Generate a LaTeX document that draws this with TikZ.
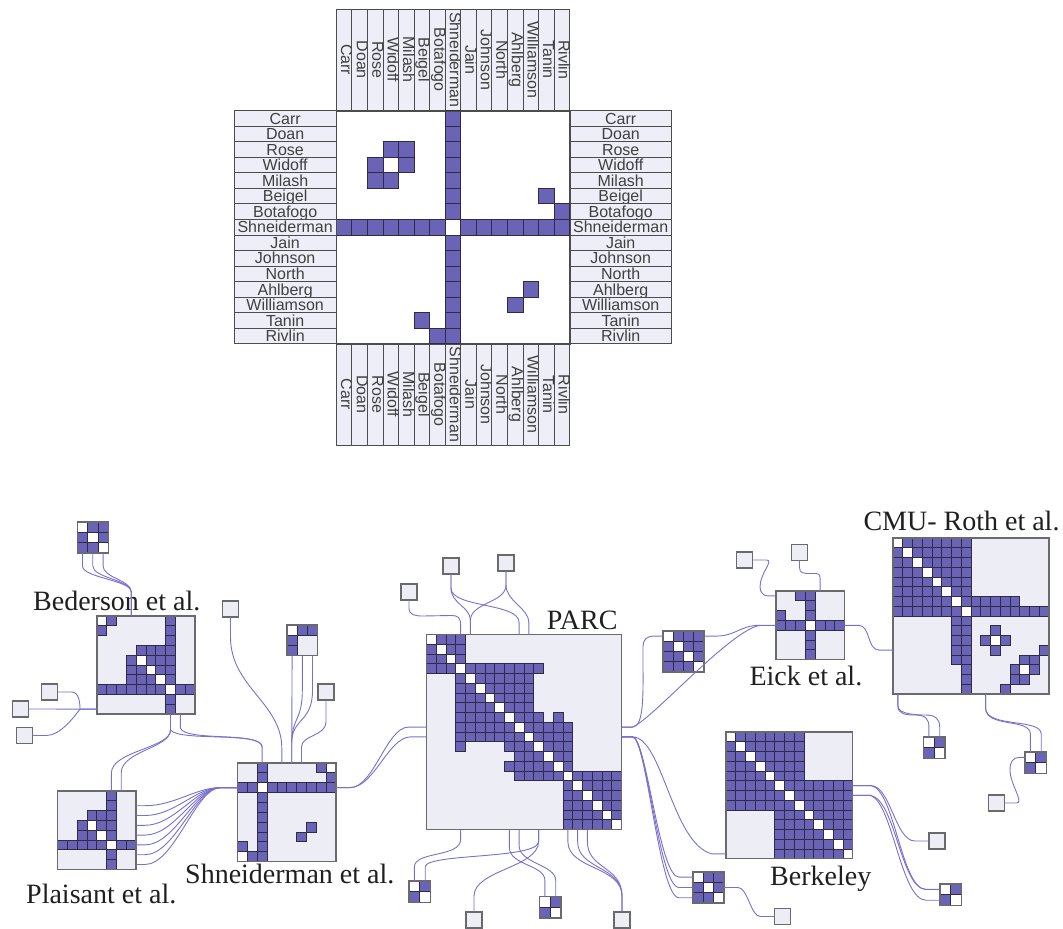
\documentclass[tikz,border=0pt]{standalone}
\usepackage{fontspec}
\usepackage{graphicx}
\setmainfont{Liberation Serif}
\newfontfamily\lsans{Liberation Sans}
\usetikzlibrary{calc}
\definecolor{pur}{RGB}{106,99,182}
\definecolor{celld}{RGB}{45,43,70}
\definecolor{bgl}{RGB}{237,237,246}
\definecolor{mout}{RGB}{105,105,110}
\definecolor{edgec}{RGB}{120,112,205}
\definecolor{lab}{RGB}{238,238,248}
\tikzset{
 cellf/.style={fill=pur,draw=celld,line width=0.8pt},
 cellw/.style={fill=white,draw=celld,line width=0.8pt},
 mframe/.style={draw=mout,line width=1.4pt,inner sep=0pt,outer sep=0pt,anchor=north west},
 single/.style={draw=mout,fill=bgl,line width=1.3pt,inner sep=0pt,outer sep=0pt,minimum size=16pt,anchor=north west},
 edge/.style={draw=edgec,line width=0.9pt},
 glab/.style={font=\fontsize{28}{30}\selectfont,text=black!88,inner sep=0pt,anchor=base west},
 tlab/.style={draw=black!70,fill=lab,line width=0.8pt},
 ttext/.style={font={\lsans\fontsize{16}{18}\selectfont},text=black!75,inner sep=0pt,text height=13pt,text depth=1.5pt,anchor=center},
 vtext/.style={font={\lsans\fontsize{16}{18}\selectfont},text=black!75,inner sep=0pt,anchor=center},
}
\newcommand\vlab[1]{\rotatebox{-90}{\vphantom{Ag}#1}}
\newcommand\mstart[4]{\def\mox{#1}\def\moy{#2}\def\mcs{#3}\fill[bgl] (#1,#2) rectangle ++({#4*#3},{#4*#3});}
\newcommand\mend[2]{\node[mframe,minimum size={#2*\mcs*1pt}] (#1) at (\mox,\moy) {};}
\newcommand\blk[4]{\foreach \rr in {#1,...,#2}{\foreach \cc in {#3,...,#4}{\filldraw[cellf] ({\mox+\cc*\mcs},{\moy+\rr*\mcs}) rectangle ++(\mcs,\mcs);}}}
\newcommand\sblk[4]{\blk{#1}{#2}{#3}{#4}\blk{#3}{#4}{#1}{#2}}
\newcommand\sym[1]{\foreach \rr/\cc in {#1}{\filldraw[cellf] ({\mox+\cc*\mcs},{\moy+\rr*\mcs}) rectangle ++(\mcs,\mcs); \filldraw[cellf] ({\mox+\rr*\mcs},{\moy+\cc*\mcs}) rectangle ++(\mcs,\mcs);}}
\newcommand\wc[1]{\foreach \rr/\cc in {#1}{\filldraw[cellw] ({\mox+\cc*\mcs},{\moy+\rr*\mcs}) rectangle ++(\mcs,\mcs);}}
\newcommand\diag[2]{\foreach \rr in {#1,...,#2}{\filldraw[cellw] ({\mox+\rr*\mcs},{\moy+\rr*\mcs}) rectangle ++(\mcs,\mcs);}}
\begin{document}
\begin{tikzpicture}[x=1pt,y=-1pt]
\useasboundingbox (0,0) rectangle (1063,929);
% ---------------- top matrix ----------------
\fill[white] (336.3,110.5) rectangle ++(233.25,233.25);
\foreach \n [count=\i from 0] in {Carr,Doan,Rose,Widoff,Milash,Beigel,Botafogo,Shneiderman,Jain,Johnson,North,Ahlberg,Williamson,Tanin,Rivlin}{
  \pgfmathsetmacro\ya{110.5+\i*15.55}
  \pgfmathsetmacro\yb{110.5+(\i+1)*15.55}
  \pgfmathsetmacro\ym{110.5+(\i+0.5)*15.55}
  \pgfmathsetmacro\xa{336.3+\i*15.55}
  \pgfmathsetmacro\xb{336.3+(\i+1)*15.55}
  \pgfmathsetmacro\xm{336.3+(\i+0.5)*15.55+1}
  \draw[tlab] (234,\ya) rectangle (336.3,\yb);
  \node[ttext] (tw\i) at (285.15,\ym) {\n};
  \draw[tlab] (569.55,\ya) rectangle (671.8,\yb);
  \node[ttext] (te\i) at (620.7,\ym) {\n};
  \draw[tlab] (\xa,9) rectangle (\xb,110.5);
  \node[vtext] (tn\i) at (\xm,59.75) {\vlab{\n}};
  \draw[tlab] (\xa,343.75) rectangle (\xb,445.3);
  \node[vtext] (tb\i) at (\xm,394.5) {\vlab{\n}};
}
\def\mox{336.3}\def\moy{110.5}\def\mcs{15.55}
\sblk{7}{7}{0}{6}\sblk{7}{7}{8}{14}
\sym{2/3,2/4,3/4,5/13,6/14,11/12}
\wc{7/7}
\node[draw=black!70,line width=0.8pt,inner sep=0pt,minimum size=233.25pt,anchor=north west] (tgrid) at (336.3,110.5) {};
% ---------------- bottom matrices ----------------
\mstart{77.3}{522}{10.3}{3}\blk{0}{2}{0}{2}\diag{0}{2}\mend{b3a}{3}
\mstart{97}{616}{9.8}{10}
\sym{0/1,0/7,1/7,2/7,3/4,3/5,3/6,3/7,4/5,4/6,4/7,5/6,5/7,6/7,7/8,7/9}
\wc{0/0,4/4,5/5,6/6,7/7}\mend{bed}{10}
\mstart{57.5}{791}{9.8}{8}
\sym{0/5,1/5,2/3,2/4,2/5,3/4,3/5,4/5,5/6,5/7}
\wc{3/3,4/4,5/5}\mend{pla}{8}
\mstart{237.5}{763}{9.85}{10}
\sblk{2}{2}{0}{1}\sblk{2}{2}{3}{9}
\sym{0/8,1/9,6/7}
\wc{2/2,0/9,9/0}\mend{shn}{10}
\mstart{287}{625}{10.2}{3}\sym{0/1,0/2}\wc{0/0}\mend{b3b}{3}
\mstart{426.5}{634.5}{9.75}{20}
\blk{0}{3}{0}{3}
\sblk{3}{3}{4}{11}
\blk{4}{10}{4}{10}
\sblk{8}{8}{8}{11}
\blk{9}{14}{9}{14}
\sym{8/13}
\blk{14}{19}{14}{19}
\diag{0}{19}\mend{parc}{20}
\mstart{663}{631}{10.2}{4}\blk{0}{3}{0}{3}\diag{0}{3}\mend{mfour}{4}
\mstart{776}{591}{9.8}{7}
\sblk{3}{3}{0}{2}\sblk{3}{3}{4}{6}\sym{0/2}\wc{3/3}\mend{eick}{7}
\mstart{893}{538}{9.75}{16}
\blk{0}{7}{0}{7}
\sblk{6}{6}{8}{12}
\sblk{7}{7}{8}{15}
\sym{9/10,10/11,11/15,12/13,12/14,13/14}
\diag{0}{7}\wc{10/10,13/13}\mend{cmu}{16}
\mstart{726}{732}{9.75}{13}
\blk{0}{7}{0}{7}\blk{5}{12}{5}{12}\diag{0}{12}\mend{berk}{13}
\mstart{693}{872}{10.3}{3}\blk{0}{2}{0}{2}\diag{0}{2}\mend{mthree}{3}
\mstart{409}{881}{10.8}{2}\sym{0/1}\diag{0}{1}\mend{pL}{2}
\mstart{539.5}{896.5}{10.8}{2}\sym{0/1}\diag{0}{1}\mend{pR}{2}
\mstart{923.5}{737}{10.8}{2}\sym{0/1}\diag{0}{1}\mend{cL}{2}
\mstart{1025}{752}{10.8}{2}\sym{0/1}\diag{0}{1}\mend{cR}{2}
\mstart{940}{884}{10.8}{2}\sym{0/1}\diag{0}{1}\mend{bR}{2}
% single nodes
\node[single] (u1) at (41.5,684) {};
\node[single] (u2) at (12.5,701) {};
\node[single] (u3) at (16.3,727.5) {};
\node[single] (u4) at (222.5,601) {};
\node[single] (u5) at (318,684) {};
\node[single] (u6) at (401,584) {};
\node[single] (u7) at (443,558) {};
\node[single] (u8) at (498,555) {};
\node[single] (u9) at (466,912) {};
\node[single] (u10) at (614,912) {};
\node[single] (u11) at (736.5,552) {};
\node[single] (u12) at (791.5,544.5) {};
\node[single] (u13) at (988.5,795) {};
\node[single] (u14) at (929,833) {};
\node[single] (u15) at (774.5,908.5) {};
% labels
\node[glab] (tBed) at (33,610) {Bederson et al.};
\node[glab] (tPla) at (26,903) {Plaisant et al.};
\node[glab] (tShn) at (185,883) {Shneiderman et al.};
\node[glab] (tParc) at (546.7,629.3) {PARC};
\node[glab] (tEick) at (749.3,685) {Eick et al.};
\node[glab] (tCmu) at (863.3,530) {CMU- Roth et al.};
\node[glab] (tBerk) at (770,885) {Berkeley};
% ---------------- edges ----------------
\foreach \k in {0,1,2}{
 \draw[edge] ($(b3a.south west)+({(\k+.5)*10.3},0)$) -- ++(0,13) .. controls +(0,12) and +(0,-12) .. ($(bed.north west)+(34.3,-24)$) -- ($(bed.north west)+(34.3,0)$);}
\draw[edge] (u1.east) -- ++(14,0) .. controls +(7,0) and +(0,-8) .. ($(bed.north west)+(-17,93.1)$) -- ($(bed.north west)+(0,93.1)$);
\draw[edge] (u2.east) -- ($(bed.north west)+(0,93.1)$);
\draw[edge] (u3.east) -- ++(14,0) .. controls +(14,0) and +(-6,8) .. ($(bed.north west)+(-17,93.1)$);
\draw[edge] ($(bed.south west)+(73.5,0)$) -- ++(0,16) .. controls +(0,18) and +(0,-22) .. ($(pla.north west)+(53.9,-18)$) -- ($(pla.north west)+(53.9,0)$);
\draw[edge] ($(bed.south west)+(73.5,0)$) -- ++(0,16) .. controls +(0,18) and +(0,-22) .. ($(pla.north west)+(63.7,-18)$) -- ($(pla.north west)+(63.7,0)$);
\draw[edge] ($(bed.south west)+(83.3,0)$) -- ++(0,14) .. controls +(5,14) and +(0,-16) .. ($(shn.north west)+(24.6,-16)$) -- ($(shn.north west)+(24.6,0)$);
\draw[edge] ($(bed.south west)+(73.5,0)$) -- ++(0,16) .. controls +(10,12) and +(0,-16) .. ($(shn.north west)+(24.6,-16)$);
\foreach \k in {1,...,7}{
 \draw[edge] ($(pla.north east)+(0,{(\k+.5)*9.8})$) -- ++(9,0) .. controls +(30,0) and +(-25,0) .. ($(shn.north west)+(-17,24.6)$) -- ($(shn.north west)+(0,24.6)$);}
\draw[edge] (u4.south) -- ++(0,20) .. controls +(0,50) and +(0,-45) .. ($(shn.north west)+(44.3,-15)$) -- ($(shn.north west)+(44.3,0)$);
\draw[edge] ($(b3b.south west)+(5.1,0)$) -- ($(shn.north west)+(54.2,0)$);
\draw[edge] ($(b3b.south west)+(15.3,0)$) -- ++(0,35) .. controls +(0,30) and +(0,-25) .. ($(shn.north west)+(54.2,-20)$) -- ($(shn.north west)+(54.2,0)$);
\draw[edge] ($(b3b.south west)+(25.5,0)$) -- ++(0,35) .. controls +(0,32) and +(0,-25) .. ($(shn.north west)+(54.2,-20)$);
\draw[edge] (u5.south) -- ++(0,22) .. controls +(0,14) and +(0,-12) .. ($(shn.north west)+(64,-16)$) -- ($(shn.north west)+(64,0)$);
\draw[edge] ($(shn.north east)+(0,24.6)$) -- ++(14,0) .. controls +(24,0) and +(-22,0) .. ($(parc.north west)+(-18,92.6)$) -- ($(parc.north west)+(0,92.6)$);
\draw[edge] ($(shn.north east)+(0,24.6)$) -- ++(14,0) .. controls +(24,0) and +(-22,0) .. ($(parc.north west)+(-16,102.4)$) -- ($(parc.north west)+(0,102.4)$);
\draw[edge] (u6.south) -- ++(0,8) .. controls +(0,7) and +(-8,0) .. ($(u6.south)+(14,16)$) -- ($(parc.north west)+(24,-19)$) .. controls +(8,0) and +(0,-8) .. ($(parc.north west)+(34.1,-9)$) -- ($(parc.north west)+(34.1,0)$);
\draw[edge] (u7.south) -- ++(0,14) .. controls +(0,16) and +(0,-14) .. ($(parc.north west)+(43.9,-14)$) -- ($(parc.north west)+(43.9,0)$);
\draw[edge] (u7.south) -- ++(0,14) .. controls +(0,20) and +(0,-20) .. ($(parc.north west)+(92.6,-12)$) -- ($(parc.north west)+(92.6,0)$);
\draw[edge] (u8.south) -- ++(0,14) .. controls +(0,18) and +(0,-18) .. ($(parc.north west)+(43.9,-14)$);
\draw[edge] (u8.south) -- ++(0,14) .. controls +(0,16) and +(0,-14) .. ($(parc.north west)+(102.4,-12)$) -- ($(parc.north west)+(102.4,0)$);
\draw[edge] ($(parc.north east)+(0,92.6)$) -- ++(11,0) .. controls +(12,0) and +(0,30) .. ($(mfour.north west)+(-20,30)$) -- ($(mfour.north west)+(-20,15)$) .. controls +(0,-6) and +(-6,0) .. ($(mfour.north west)+(-10,5.1)$) -- ($(mfour.north west)+(0,5.1)$);
\draw[edge] ($(parc.north east)+(0,92.6)$) -- ++(11,0) .. controls +(20,-8) and +(-30,5) .. ($(eick.north west)+(-16,34.3)$) -- ($(eick.north west)+(0,34.3)$);
\draw[edge] ($(mfour.north east)+(0,5.1)$) -- ++(12,0) .. controls +(20,0) and +(-20,0) .. ($(eick.north west)+(-16,34.3)$);
\draw[edge] (u11.east) -- ++(14,0) .. controls +(8,0) and +(0,-14) .. ($(eick.north west)+(-16,-4)$) .. controls +(0,6) and +(-4,0) .. ($(eick.north west)+(-8,4.9)$) -- ($(eick.north west)+(0,4.9)$);
\draw[edge] (u12.south) -- ++(0,7) .. controls +(0,6) and +(-8,0) .. ($(u12.south)+(12,13)$) .. controls +(8,0) and +(0,-8) .. ($(eick.north west)+(44.1,-10)$) -- ($(eick.north west)+(44.1,0)$);
\draw[edge] ($(eick.north east)+(0,34.3)$) -- ++(14,0) .. controls +(12,0) and +(-12,0) .. ($(cmu.north west)+(-14,112.1)$) -- ($(cmu.north west)+(0,112.1)$);
\draw[edge] ($(parc.north east)+(0,102.4)$) -- ++(11,0) .. controls +(30,0) and +(-40,-10) .. ($(berk.north west)+(-14,121.9)$) -- ($(berk.north west)+(0,121.9)$);
\foreach \k in {0,1,2}{
 \draw[edge] ($(parc.north east)+(0,102.4)$) -- ++(11,0) .. controls +(14,0) and +(-20,0) .. ($(mthree.north west)+(-14,{(\k+.5)*10.3})$) -- ($(mthree.north west)+(0,{(\k+.5)*10.3})$);}
\foreach \k in {14,15,16}{
 \draw[edge] ($(parc.south west)+({(\k+.5)*9.75},0)$) -- ++(0,12) .. controls +(0,28) and +(0,-30) .. ($(u10.north)+(0,-16)$) -- (u10.north);}
\draw[edge] ($(parc.south west)+(34.1,0)$) -- ++(0,10) .. controls +(0,18) and +(0,-16) .. ($(pL.north west)+(5.4,-14)$) -- ($(pL.north west)+(5.4,0)$);
\draw[edge] ($(parc.south west)+(112.1,0)$) -- ++(0,12) .. controls +(0,18) and +(0,-14) .. ($(pL.north west)+(16.2,-14)$) -- ($(pL.north west)+(16.2,0)$);
\draw[edge] ($(parc.south west)+(82.9,0)$) -- ++(0,18) .. controls +(0,18) and +(0,-16) .. ($(pR.north west)+(5.4,-16)$) -- ($(pR.north west)+(5.4,0)$);
\draw[edge] ($(parc.south west)+(92.6,0)$) -- ++(0,16) .. controls +(0,18) and +(0,-16) .. ($(pR.north west)+(16.2,-16)$) -- ($(pR.north west)+(16.2,0)$);
\draw[edge] ($(parc.south west)+(112.1,0)$) -- ++(0,12) .. controls +(0,26) and +(0,-26) .. ($(u9.north)+(0,-16)$) -- (u9.north);
\draw[edge] ($(mthree.north east)+(0,15.45)$) -- ++(14,0) .. controls +(10,0) and +(-10,0) .. ($(u15.west)+(-14,0)$) -- (u15.west);
\draw[edge] ($(berk.north east)+(0,53.6)$) -- ++(18,0) .. controls +(20,0) and +(-20,0) .. ($(u14.west)+(-14,0)$) -- (u14.west);
\draw[edge] ($(berk.north east)+(0,63.4)$) -- ++(18,0) .. controls +(25,5) and +(-25,0) .. ($(bR.north west)+(-14,5.4)$) -- ($(bR.north west)+(0,5.4)$);
\draw[edge] ($(berk.north east)+(0,63.4)$) -- ++(18,0) .. controls +(22,8) and +(-25,0) .. ($(bR.north west)+(-14,16.2)$) -- ($(bR.north west)+(0,16.2)$);
\draw[edge] ($(berk.north east)+(0,53.6)$) -- ++(18,0) .. controls +(24,3) and +(-25,0) .. ($(bR.north west)+(-14,5.4)$);
\draw[edge] ($(cmu.south west)+(4.9,0)$) -- ++(0,12) .. controls +(0,8) and +(-10,0) .. ($(cL.north west)+(-8,-22)$) .. controls +(10,0) and +(0,-8) .. ($(cL.north west)+(5.4,-10)$) -- ($(cL.north west)+(5.4,0)$);
\draw[edge] ($(cmu.south west)+(4.9,0)$) -- ++(0,12) .. controls +(0,8) and +(-10,0) .. ($(cL.north west)+(2,-22)$) .. controls +(10,0) and +(0,-8) .. ($(cL.north west)+(16.2,-10)$) -- ($(cL.north west)+(16.2,0)$);
\draw[edge] ($(cmu.south west)+(92.6,0)$) -- ++(0,14) .. controls +(0,20) and +(0,-16) .. ($(cR.north west)+(5.4,-18)$) -- ($(cR.north west)+(5.4,0)$);
\draw[edge] ($(cmu.south west)+(92.6,0)$) -- ++(0,14) .. controls +(0,20) and +(0,-16) .. ($(cR.north west)+(16.2,-18)$) -- ($(cR.north west)+(16.2,0)$);
\draw[edge] (u13.east) -- ++(12,0) .. controls +(8,0) and +(0,14) .. ($(cR.north west)+(-15,18)$) .. controls +(0,-8) and +(-6,0) .. ($(cR.north west)+(-6,5.4)$) -- ($(cR.north west)+(0,5.4)$);
\end{tikzpicture}
\end{document}
